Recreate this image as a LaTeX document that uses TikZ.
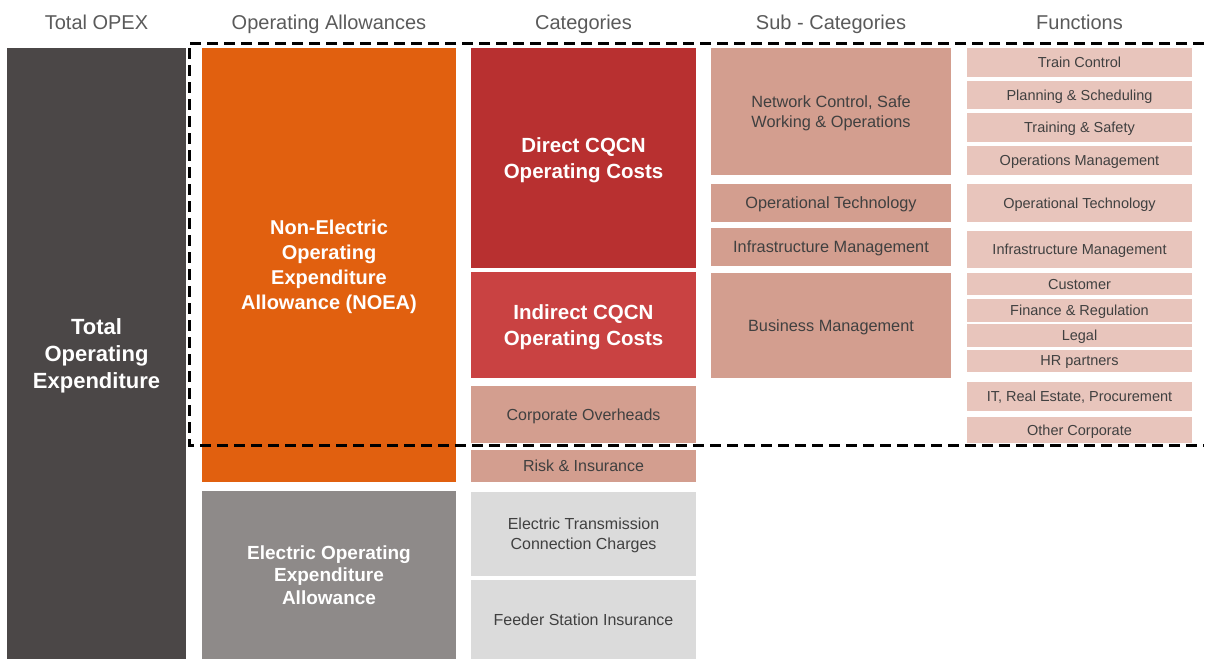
\documentclass[tikz,border=0pt]{standalone}
\usepackage{fontspec}
\setmainfont{Liberation Sans}
\usepackage{xcolor}
\usetikzlibrary{positioning}

\definecolor{opexgrey}{HTML}{4B4747}
\definecolor{noeaorange}{HTML}{E1600F}
\definecolor{eoeagrey}{HTML}{8E8A89}
\definecolor{directred}{HTML}{B83030}
\definecolor{indirectred}{HTML}{C94242}
\definecolor{salmon}{HTML}{D39E8F}
\definecolor{lightsalmon}{HTML}{E8C5BC}
\definecolor{lightgrey}{HTML}{DBDBDB}
\definecolor{headtext}{HTML}{5A5A5A}
\definecolor{boxtext}{HTML}{404040}

\begin{document}
\begin{tikzpicture}[
    x=1pt, y=-1pt,
    blk/.style={
        anchor=north west,
        inner sep=0pt,
        outer sep=0pt,
        text depth=0pt,
        align=center
    },
    big/.style={blk, text=white, font=\bfseries\fontsize{20}{25}\selectfont},
    cat/.style={blk, text=boxtext, minimum width=225pt, font=\fontsize{16}{20}\selectfont},
    sub/.style={blk, fill=salmon, text=boxtext, minimum width=240pt, font=\fontsize{16.3}{20}\selectfont},
    func/.style={blk, fill=lightsalmon, text=boxtext, minimum width=225pt, font=\fontsize{14.5}{18}\selectfont},
    head/.style={anchor=base, inner sep=0pt, text=headtext, font=\fontsize{20}{24}\selectfont},
    frame/.style={line width=3pt, dash pattern=on 11pt off 6pt}
]
\useasboundingbox (0,0) rectangle (1206,659);

% --- Total ---
\node[big, fill=opexgrey, minimum width=179pt, minimum height=611pt,
      font=\bfseries\fontsize{22}{27}\selectfont] (total) at (7,48)
    {Total\\Operating\\Expenditure};

% --- Allowances ---
\node[big, fill=noeaorange, minimum width=254pt, minimum height=434pt] (noea) at (202,48)
    {Non-Electric\\Operating\\Expenditure\\Allowance (NOEA)};
\node[big, fill=eoeagrey, minimum width=254pt, minimum height=168pt,
      font=\bfseries\fontsize{19}{22.5}\selectfont] (eoea) at (202,491)
    {Electric Operating\\Expenditure\\Allowance};

% --- Categories ---
\node[big, fill=directred, minimum width=225pt, minimum height=220pt,
      font=\bfseries\fontsize{20.5}{26}\selectfont] (direct) at (471,48)
    {Direct CQCN\\Operating Costs};
\node[big, fill=indirectred, minimum width=225pt, minimum height=106pt,
      font=\bfseries\fontsize{20.5}{26}\selectfont] (indirect) at (471,272)
    {Indirect CQCN\\Operating Costs};
\node[cat, fill=salmon, minimum height=57pt] (corp) at (471,386) {Corporate Overheads};
\node[cat, fill=salmon, minimum height=32pt] (risk) at (471,450) {Risk \& Insurance};
\node[cat, fill=lightgrey, minimum height=84pt] (transm) at (471,492)
    {Electric Transmission\\Connection Charges};
\node[cat, fill=lightgrey, minimum height=79pt] (feeder) at (471,580) {Feeder Station Insurance};

% --- Sub-categories ---
\node[sub, minimum height=127pt] (netctl) at (711,48) {Network Control, Safe\\Working \& Operations};
\node[sub, minimum height=38pt] (optech) at (711,184) {Operational Technology};
\node[sub, minimum height=38pt] (infra) at (711,228) {Infrastructure Management};
\node[sub, minimum height=105pt] (busmgmt) at (711,273) {Business Management};

% --- Functions ---
\node[func, minimum height=29pt] (train) at (967,48) {Train Control};
\node[func, minimum height=28pt] (plan) at (967,81) {Planning \& Scheduling};
\node[func, minimum height=29pt] (safety) at (967,113) {Training \& Safety};
\node[func, minimum height=29pt] (opsmgmt) at (967,146) {Operations Management};
\node[func, minimum height=38pt] (fOptech) at (967,184) {Operational Technology};
\node[func, minimum height=37pt] (fInfra) at (967,231) {Infrastructure Management};
\node[func, minimum height=22pt] (customer) at (967,273) {Customer};
\node[func, minimum height=23pt] (finance) at (967,299) {Finance \& Regulation};
\node[func, minimum height=23pt] (legal) at (967,324) {Legal};
\node[func, minimum height=22pt] (hr) at (967,350) {HR partners};
\node[func, minimum height=29pt] (itre) at (967,382) {IT, Real Estate, Procurement};
\node[func, minimum height=26pt] (other) at (967,417) {Other Corporate};

% --- Column headings ---
\node[head] (hTotal) at (96.5,29) {Total OPEX};
\node[head] (hAllow) at (329,29) {Operating Allowances};
\node[head] (hCat) at (583.5,29) {Categories};
\node[head] (hSub) at (831,29) {Sub - Categories};
\node[head] (hFunc) at (1079.5,29) {Functions};

% --- Dashed frame round the non-electric part ---
\coordinate (frameTR) at (1204,43);
\coordinate (frameTL) at (189,43);
\coordinate (frameBL) at (189,445);
\coordinate (frameBR) at (1204,445);
\draw[frame] (frameTR) -- (frameTL) -- (frameBL) -- (frameBR);

\end{tikzpicture}
\end{document}
